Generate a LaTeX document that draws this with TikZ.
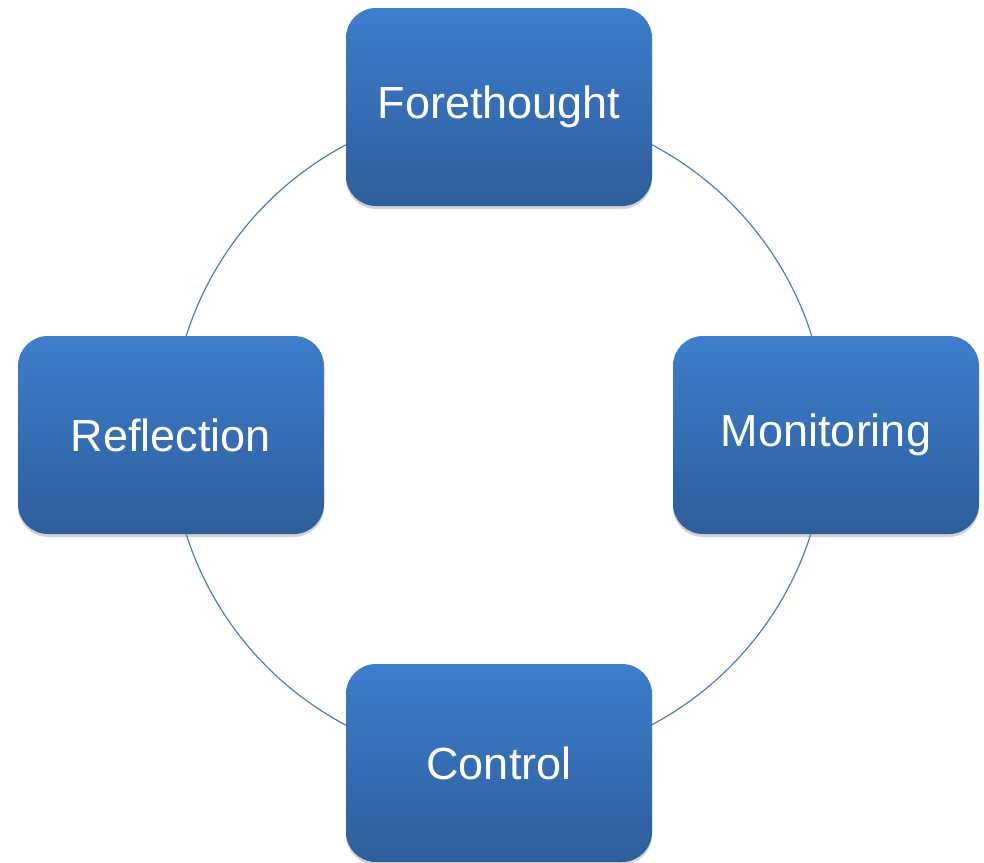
\documentclass[tikz,border=0pt]{standalone}
\usepackage{fontspec}
\setmainfont{Liberation Sans}
\usetikzlibrary{shadows,backgrounds}
\definecolor{boxtop}{RGB}{61,126,205}
\definecolor{boxbottom}{RGB}{46,93,155}
\definecolor{ringblue}{RGB}{74,126,187}
\begin{document}
\begin{tikzpicture}[x=0.5pt,y=-0.5pt,
    phase/.style={rounded corners=15pt,minimum width=153pt,minimum height=99pt,inner sep=0pt,
      top color=boxtop,bottom color=boxbottom,text=white,font=\fontsize{22.5}{27}\selectfont,
      drop shadow={shadow xshift=0pt,shadow yshift=-1.5pt,opacity=0.35}},
    ring/.style={draw=ringblue,line width=0.6pt}]
    \useasboundingbox (0,0) rectangle (984,862);

    \node[phase] (fore) at (499,107) {Forethought};
    \node[phase] (moni) at (826,435) {Monitoring};
    \node[phase] (cont) at (499,763) {Control};
    \node[phase] (refl) at (171,435) {Reflection};

    \begin{pgfonlayer}{background}
      \draw[ring] (fore.center) arc[start angle=90,end angle=0,radius=164pt];
      \draw[ring] (moni.center) arc[start angle=0,end angle=-90,radius=164pt];
      \draw[ring] (cont.center) arc[start angle=270,end angle=180,radius=164pt];
      \draw[ring] (refl.center) arc[start angle=180,end angle=90,radius=164pt];
    \end{pgfonlayer}
  \end{tikzpicture}
\end{document}
